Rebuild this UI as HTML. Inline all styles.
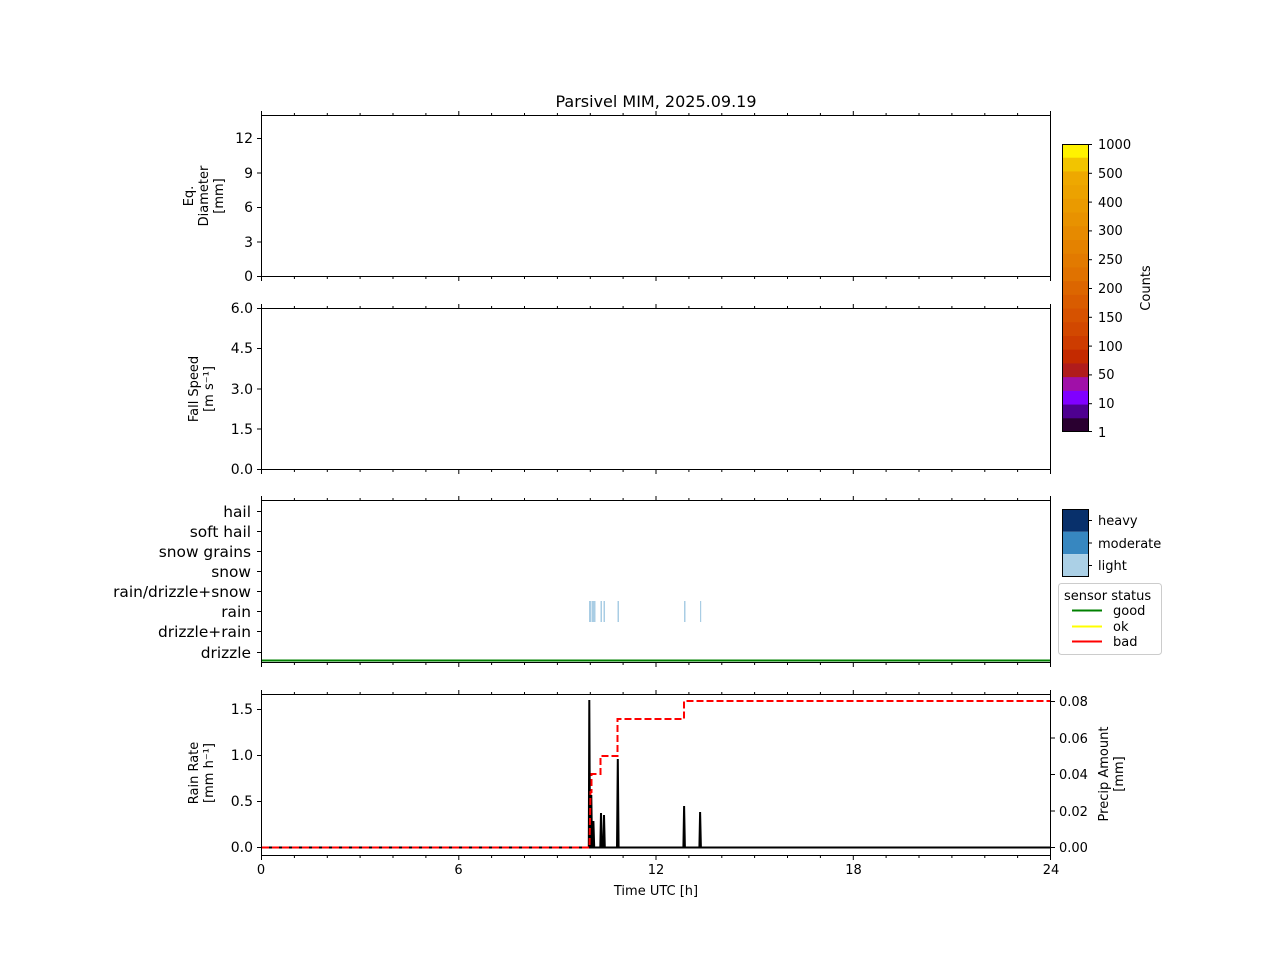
<!DOCTYPE html>
<html><head><meta charset="utf-8"><style>
body{margin:0;background:#fff}
svg{display:block;font-family:"DejaVu Sans","Liberation Sans",sans-serif}
</style></head><body>
<svg width="1280" height="960" viewBox="0 0 1280 960" xmlns="http://www.w3.org/2000/svg">
<rect width="1280" height="960" fill="#fff"/>
<text x="656" y="107" font-size="16" text-anchor="middle">Parsivel MIM, 2025.09.19</text>

<g fill="none" stroke="#000" stroke-width="1">
<rect x="261.5" y="115.5" width="789" height="161"/>
<rect x="261.5" y="308.5" width="789" height="161"/>
<rect x="261.5" y="500.5" width="789" height="162"/>
<rect x="261.5" y="694.5" width="789" height="161"/>
</g>

<defs>
<g id="tk" stroke="#000" stroke-width="1">
<line x1="261.5" y1="0" x2="261.5" y2="-4.5"/><line x1="294.4" y1="0" x2="294.4" y2="-2.5"/><line x1="327.3" y1="0" x2="327.3" y2="-2.5"/><line x1="360.1" y1="0" x2="360.1" y2="-2.5"/><line x1="393" y1="0" x2="393" y2="-2.5"/><line x1="425.9" y1="0" x2="425.9" y2="-2.5"/>
<line x1="458.8" y1="0" x2="458.8" y2="-4.5"/><line x1="491.6" y1="0" x2="491.6" y2="-2.5"/><line x1="524.5" y1="0" x2="524.5" y2="-2.5"/><line x1="557.4" y1="0" x2="557.4" y2="-2.5"/><line x1="590.3" y1="0" x2="590.3" y2="-2.5"/><line x1="623.1" y1="0" x2="623.1" y2="-2.5"/>
<line x1="656" y1="0" x2="656" y2="-4.5"/><line x1="688.9" y1="0" x2="688.9" y2="-2.5"/><line x1="721.8" y1="0" x2="721.8" y2="-2.5"/><line x1="754.6" y1="0" x2="754.6" y2="-2.5"/><line x1="787.5" y1="0" x2="787.5" y2="-2.5"/><line x1="820.4" y1="0" x2="820.4" y2="-2.5"/>
<line x1="853.3" y1="0" x2="853.3" y2="-4.5"/><line x1="886.1" y1="0" x2="886.1" y2="-2.5"/><line x1="919" y1="0" x2="919" y2="-2.5"/><line x1="951.9" y1="0" x2="951.9" y2="-2.5"/><line x1="984.8" y1="0" x2="984.8" y2="-2.5"/><line x1="1017.6" y1="0" x2="1017.6" y2="-2.5"/>
<line x1="1050.5" y1="0" x2="1050.5" y2="-4.5"/>
</g>
</defs>
<use href="#tk" transform="translate(0,115.5)"/>
<use href="#tk" transform="translate(0,276.5) scale(1,-1)"/>
<use href="#tk" transform="translate(0,308.5)"/>
<use href="#tk" transform="translate(0,469.5) scale(1,-1)"/>
<use href="#tk" transform="translate(0,500.5)"/>
<use href="#tk" transform="translate(0,662.5) scale(1,-1)"/>
<use href="#tk" transform="translate(0,694.5)"/>
<use href="#tk" transform="translate(0,855.5) scale(1,-1)"/>

<g stroke="#000"><line x1="257" y1="276.5" x2="261" y2="276.5"/><line x1="257" y1="242" x2="261" y2="242"/><line x1="257" y1="207.5" x2="261" y2="207.5"/><line x1="257" y1="173" x2="261" y2="173"/><line x1="257" y1="138.5" x2="261" y2="138.5"/>
<line x1="257" y1="469.5" x2="261" y2="469.5"/><line x1="257" y1="429" x2="261" y2="429"/><line x1="257" y1="389" x2="261" y2="389"/><line x1="257" y1="348.5" x2="261" y2="348.5"/><line x1="257" y1="308.5" x2="261" y2="308.5"/>
<line x1="257" y1="511.5" x2="261" y2="511.5"/><line x1="257" y1="531.5" x2="261" y2="531.5"/><line x1="257" y1="551.5" x2="261" y2="551.5"/><line x1="257" y1="571.5" x2="261" y2="571.5"/><line x1="257" y1="591.5" x2="261" y2="591.5"/><line x1="257" y1="611.5" x2="261" y2="611.5"/><line x1="257" y1="631.5" x2="261" y2="631.5"/><line x1="257" y1="652.5" x2="261" y2="652.5"/>
<line x1="257" y1="847.5" x2="261" y2="847.5"/><line x1="257" y1="801.5" x2="261" y2="801.5"/><line x1="257" y1="755.5" x2="261" y2="755.5"/><line x1="257" y1="709.5" x2="261" y2="709.5"/>
<line x1="1051" y1="847.5" x2="1055" y2="847.5"/><line x1="1051" y1="811" x2="1055" y2="811"/><line x1="1051" y1="774.5" x2="1055" y2="774.5"/><line x1="1051" y1="738" x2="1055" y2="738"/><line x1="1051" y1="701.5" x2="1055" y2="701.5"/>
</g>
<g font-size="14" text-anchor="end">
<text x="253" y="281">0</text><text x="253" y="247">3</text><text x="253" y="212">6</text><text x="253" y="178">9</text><text x="253" y="143">12</text>
<text x="253" y="474">0.0</text><text x="253" y="434">1.5</text><text x="253" y="394">3.0</text><text x="253" y="353">4.5</text><text x="253" y="313">6.0</text>
<text x="253" y="852">0.0</text><text x="253" y="806">0.5</text><text x="253" y="760">1.0</text><text x="253" y="714">1.5</text>
</g>
<g font-size="15.4" text-anchor="end">
<text x="251" y="517">hail</text><text x="251" y="537">soft hail</text><text x="251" y="557">snow grains</text><text x="251" y="577">snow</text><text x="251" y="597">rain/drizzle+snow</text><text x="251" y="617">rain</text><text x="251" y="637">drizzle+rain</text><text x="251" y="658">drizzle</text>
</g>
<g font-size="13" text-anchor="start">
<text x="1059" y="852">0.00</text><text x="1059" y="816">0.02</text><text x="1059" y="779">0.04</text><text x="1059" y="743">0.06</text><text x="1059" y="706">0.08</text>
</g>
<g font-size="13" text-anchor="middle">
<text x="261" y="874">0</text><text x="458.5" y="874">6</text><text x="656" y="874">12</text><text x="853.5" y="874">18</text><text x="1051" y="874">24</text>
<text x="656" y="895">Time UTC [h]</text>
</g>
<g font-size="13" text-anchor="middle">
<text transform="translate(193,196) rotate(-90)"><tspan x="0" dy="0">Eq.</tspan><tspan x="0" dy="15">Diameter</tspan><tspan x="0" dy="15">[mm]</tspan></text>
<text transform="translate(198,389) rotate(-90)"><tspan x="0">Fall Speed</tspan><tspan x="0" dy="15">[m s⁻¹]</tspan></text>
<text transform="translate(198,773) rotate(-90)"><tspan x="0">Rain Rate</tspan><tspan x="0" dy="15">[mm h⁻¹]</tspan></text>
<text transform="translate(1108,774) rotate(-90)"><tspan x="0">Precip Amount</tspan><tspan x="0" dy="15">[mm]</tspan></text>
<text transform="translate(1150,288) rotate(-90)">Counts</text>
</g>

<g>
<rect x="1062.5" y="144" width="26" height="14.3" fill="#fff200"/>
<rect x="1062.5" y="157.71" width="26" height="14.3" fill="#f2c400"/>
<rect x="1062.5" y="171.43" width="26" height="14.3" fill="#eea800"/>
<rect x="1062.5" y="185.14" width="26" height="14.3" fill="#eca200"/>
<rect x="1062.5" y="198.86" width="26" height="14.3" fill="#ea9a00"/>
<rect x="1062.5" y="212.57" width="26" height="14.3" fill="#e89200"/>
<rect x="1062.5" y="226.29" width="26" height="14.3" fill="#e68a00"/>
<rect x="1062.5" y="240" width="26" height="14.3" fill="#e48200"/>
<rect x="1062.5" y="253.71" width="26" height="14.3" fill="#e27a00"/>
<rect x="1062.5" y="267.43" width="26" height="14.3" fill="#e07200"/>
<rect x="1062.5" y="281.14" width="26" height="14.3" fill="#dc6600"/>
<rect x="1062.5" y="294.86" width="26" height="14.3" fill="#d95c00"/>
<rect x="1062.5" y="308.57" width="26" height="14.3" fill="#d65200"/>
<rect x="1062.5" y="322.29" width="26" height="14.3" fill="#d24800"/>
<rect x="1062.5" y="336" width="26" height="14.3" fill="#cd3c00"/>
<rect x="1062.5" y="349.71" width="26" height="14.3" fill="#c42a00"/>
<rect x="1062.5" y="363.43" width="26" height="14.3" fill="#b01c1c"/>
<rect x="1062.5" y="377.14" width="26" height="14.3" fill="#a010a8"/>
<rect x="1062.5" y="390.86" width="26" height="14.3" fill="#8000ff"/>
<rect x="1062.5" y="404.57" width="26" height="14.3" fill="#4e0090"/>
<rect x="1062.5" y="418.29" width="26" height="13.71" fill="#2a0030"/>
<rect x="1062.5" y="144.5" width="26" height="287" fill="none" stroke="#000"/>
</g>
<g stroke="#000">
<line x1="1088" x2="1092" y1="144.5" y2="144.5"/><line x1="1088" x2="1092" y1="173.3" y2="173.3"/><line x1="1088" x2="1092" y1="202.1" y2="202.1"/><line x1="1088" x2="1092" y1="230.9" y2="230.9"/><line x1="1088" x2="1092" y1="259.7" y2="259.7"/><line x1="1088" x2="1092" y1="288.5" y2="288.5"/><line x1="1088" x2="1092" y1="317.3" y2="317.3"/><line x1="1088" x2="1092" y1="346.1" y2="346.1"/><line x1="1088" x2="1092" y1="374.9" y2="374.9"/><line x1="1088" x2="1092" y1="403.7" y2="403.7"/><line x1="1088" x2="1092" y1="431.5" y2="431.5"/>
</g>
<g font-size="13">
<text x="1098" y="149">1000</text><text x="1098" y="178">500</text><text x="1098" y="207">400</text><text x="1098" y="235">300</text><text x="1098" y="264">250</text><text x="1098" y="293">200</text><text x="1098" y="322">150</text><text x="1098" y="351">100</text><text x="1098" y="379">50</text><text x="1098" y="408">10</text><text x="1098" y="437">1</text>
</g>

<rect x="1062.5" y="509.5" width="26" height="22.3" fill="#08306b"/>
<rect x="1062.5" y="531.8" width="26" height="22.3" fill="#3787c0"/>
<rect x="1062.5" y="554.1" width="26" height="22.4" fill="#abd0e6"/>
<rect x="1062.5" y="509.5" width="26" height="67" fill="none" stroke="#000"/>
<g stroke="#000"><line x1="1088" y1="520.5" x2="1092" y2="520.5"/><line x1="1088" y1="543" x2="1092" y2="543"/><line x1="1088" y1="565.5" x2="1092" y2="565.5"/></g>
<g font-size="13"><text x="1098" y="525">heavy</text><text x="1098" y="548">moderate</text><text x="1098" y="570">light</text></g>
<rect x="1058.5" y="583.5" width="103" height="71" rx="3" fill="#fff" stroke="#ccc"/>
<g font-size="13"><text x="1064" y="600">sensor status</text><text x="1113" y="615">good</text><text x="1113" y="631">ok</text><text x="1113" y="646">bad</text></g>
<line x1="1072" y1="610.5" x2="1102" y2="610.5" stroke="#008000" stroke-width="2"/>
<line x1="1072" y1="626.5" x2="1102" y2="626.5" stroke="#ffff00" stroke-width="2"/>
<line x1="1072" y1="641.5" x2="1102" y2="641.5" stroke="#ff0000" stroke-width="2"/>

<line x1="262" y1="660.5" x2="1050" y2="660.5" stroke="#008000" stroke-width="2"/>
<g fill="#a9cde4">
<rect x="589" y="601" width="2" height="21"/><rect x="591.5" y="601" width="2" height="21"/><rect x="593.5" y="601" width="2" height="21"/><rect x="600.5" y="601" width="1.5" height="21"/><rect x="603.5" y="601" width="1.5" height="21"/><rect x="617.5" y="601" width="1.5" height="21"/><rect x="684" y="601" width="1.5" height="21"/><rect x="700" y="601" width="1.2" height="21"/>
</g>

<line x1="262" y1="847.5" x2="1050" y2="847.5" stroke="#000" stroke-width="2"/>
<path fill="none" stroke="#000" stroke-width="2" d="M588.8,847.5 L589.3,700 L590,847.5 M590.8,847.5 L591.3,795 L592,847.5 M592.8,847.5 L593.4,821 L594.2,847.5 M600.3,847.5 L601,813 L601.8,847.5 M603.3,847.5 L604,815 L604.8,847.5 M617,847.5 L617.8,759 L618.6,847.5 M683.4,847.5 L684.1,806 L684.9,847.5 M699.4,847.5 L700.1,812 L700.9,847.5"/>
<polyline fill="none" stroke="#ff0000" stroke-width="2" stroke-dasharray="7,3" points="262,847.5 589.5,847.5 590.5,792 591.5,792 591.5,774 600.5,774 600.5,756 617.5,756 617.5,719 684,719 684,701 1050,701"/>
</svg>
</body></html>
